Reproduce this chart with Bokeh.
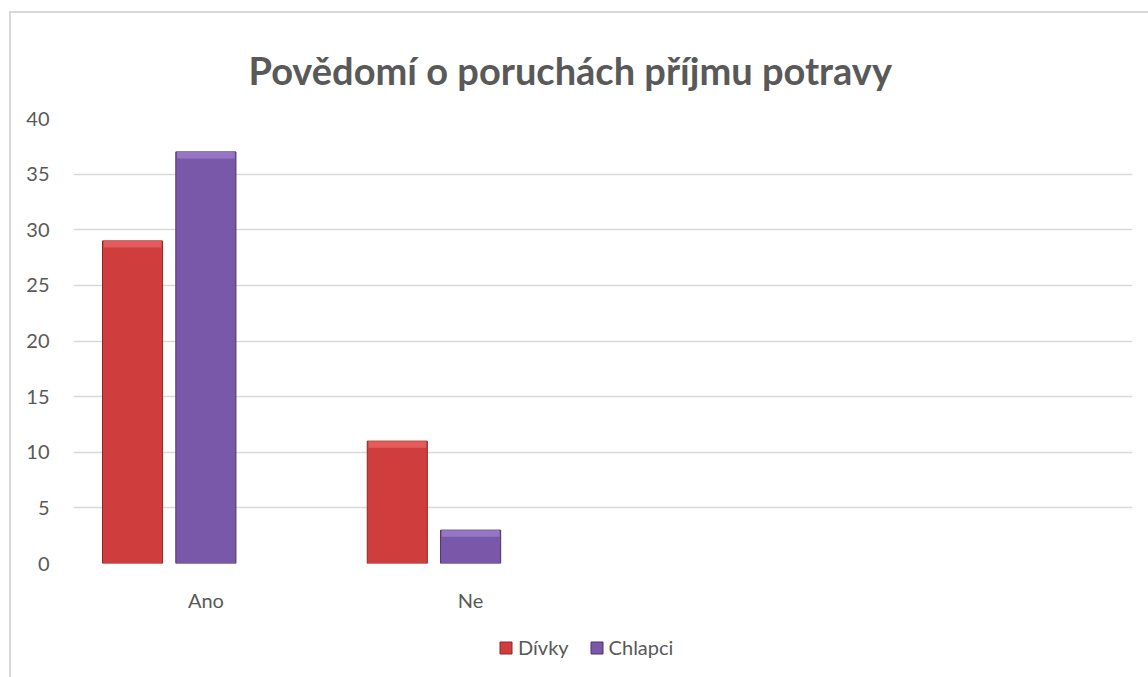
from bokeh.plotting import figure
from bokeh.layouts import column
from bokeh.models import (ColumnDataSource, FactorRange, Range1d, Legend, LegendItem)
from bokeh.transform import dodge
from bokeh.embed import file_html
from bokeh.resources import INLINE

# ---- data ----
title = "Povědomí o poruchách příjmu potravy"
axis_categories = ["Ano", "Ne", " ", "  "]
categories = ["Ano", "Ne"]
divky = [29, 11]
chlapci = [37, 3]
series_names = ["Dívky", "Chlapci"]
y_ticks = [0, 5, 10, 15, 20, 25, 30, 35, 40]

FONT = "Lato"
GREY = "#595959"
RED = "#cf3d3d"
RED_EDGE = "#8f2626"
RED_TOP = "#e35b5b"
PURPLE = "#7a58a9"
PURPLE_EDGE = "#4a3268"
PURPLE_TOP = "#9676c4"
BEVEL = 0.6  # visual bevel height (style), in axis units

src = ColumnDataSource(dict(cat=categories, divky=divky, chlapci=chlapci,
                            divky_b=[v - BEVEL for v in divky],
                            chlapci_b=[v - BEVEL for v in chlapci]))

W = 1137
H1, H2 = 604, 60
p = figure(width=W, height=H1, x_range=FactorRange(*axis_categories, range_padding=0),
           y_range=Range1d(0, 40), output_backend="svg", toolbar_location=None,
           title=title,
           min_border_left=62, min_border_right=16, min_border_top=105, min_border_bottom=54)
p.outline_line_color = None
p.background_fill_color = "white"
p.border_fill_color = "white"
p.title.align = "left"
p.title.offset = 175
p.title.text_font = FONT
p.title.text_font_size = "38px"
p.title.text_font_style = "bold"
p.title.text_color = GREY
p.title.standoff = 52

xd = dodge("cat", -0.277, range=p.x_range)
xc = dodge("cat", 0.0, range=p.x_range)
BW = 0.227
r1 = p.vbar(x=xd, top="divky", width=BW, source=src,
            fill_color=RED, line_color=RED_EDGE, line_width=1)
r2 = p.vbar(x=xc, top="chlapci", width=BW, source=src,
            fill_color=PURPLE, line_color=PURPLE_EDGE, line_width=1)
p.vbar(x=xd, bottom="divky_b", top="divky", width=BW * 0.96, source=src,
       fill_color=RED_TOP, line_color=None)
p.vbar(x=xc, bottom="chlapci_b", top="chlapci", width=BW * 0.96, source=src,
       fill_color=PURPLE_TOP, line_color=None)

p.yaxis.ticker = y_ticks
p.ygrid.grid_line_color = "#d9d9d9"
p.ygrid.grid_line_width = 1.5
p.xgrid.grid_line_color = None
for ax in (p.xaxis[0], p.yaxis[0]):
    ax.axis_line_color = None
    ax.major_tick_line_color = None
    ax.minor_tick_line_color = None
    ax.major_label_text_font = FONT
    ax.major_label_text_font_size = "20px"
    ax.major_label_text_color = GREY
p.yaxis.major_label_standoff = 18
p.xaxis.major_label_standoff = 18

# legend lives in its own strip below the chart; its proxy bars are hidden
p2 = figure(width=W, height=H2, x_range=FactorRange(*axis_categories, range_padding=0),
            y_range=Range1d(-300, -200),
            x_axis_type=None, y_axis_type=None, output_backend="svg", toolbar_location=None,
            min_border=0)
p2.outline_line_color = None
p2.xgrid.grid_line_color = None
p2.ygrid.grid_line_color = None
l1 = p2.vbar(x="cat", top="divky", width=0.1, source=src,
             fill_color=RED, line_color=RED_EDGE, line_width=1)
l2 = p2.vbar(x="cat", top="chlapci", width=0.1, source=src,
             fill_color=PURPLE, line_color=PURPLE_EDGE, line_width=1)
l1.visible = False
l2.visible = False
legend = Legend(items=[LegendItem(label=series_names[0], renderers=[l1]),
                       LegendItem(label=series_names[1], renderers=[l2])],
                orientation="horizontal", location=(425, 18),
                label_text_font=FONT, label_text_font_size="20px", label_text_color=GREY,
                glyph_width=15, glyph_height=15, label_standoff=5, spacing=20,
                padding=5, margin=0, border_line_color=None, background_fill_alpha=0,
                inactive_fill_alpha=0)
p2.add_layout(legend)

layout = column(p, p2, margin=(11, 0, 0, 9), spacing=0,
                styles={"border-left": "2px solid #d9d9d9", "border-top": "2px solid #d9d9d9"})

open("out.html", "w").write(file_html(layout, INLINE))
